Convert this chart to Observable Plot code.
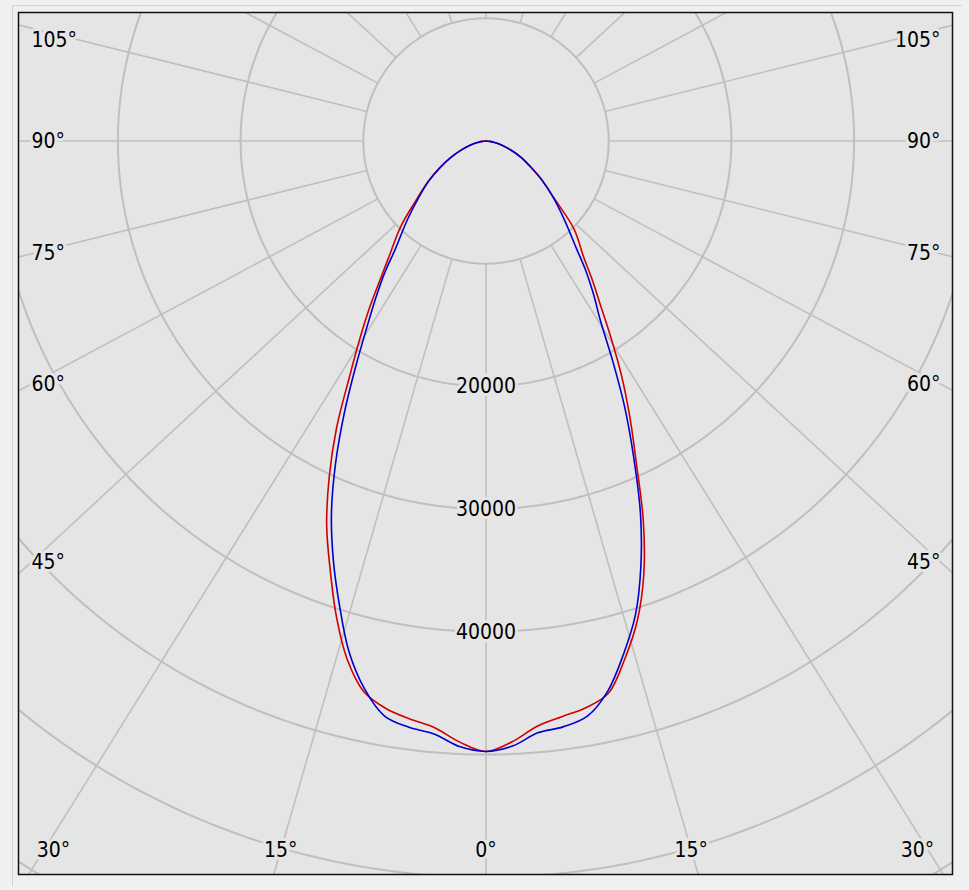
<!DOCTYPE html>
<html><head><meta charset="utf-8">
<script src="https://cdn.jsdelivr.net/npm/d3@7"></script>
<script src="https://cdn.jsdelivr.net/npm/@observablehq/plot@0.6"></script>
<style>html,body{margin:0;padding:0;background:#f0f0f0;}</style>
</head><body><div id="chart"></div>
<script>
// ---- data (luminous intensity, cd) ----
const angles = [0, 2.5, 5, 7.5, 10, 12.5, 15, 17.5, 20, 22.5, 25, 27.5, 30, 32.5, 35, 37.5, 40, 45, 50, 55, 60, 65, 70, 75, 80, 85, 90];
const c0   = [49750, 49000, 47880, 47320, 46900, 46100, 43700, 41000, 37600, 33500, 29000, 25400, 22100, 18900, 16200, 14200, 12400, 10150, 7230, 5560, 4130, 3150, 2150, 1350, 720, 320, 0];
const c180 = [49750, 49040, 48000, 47510, 46960, 45970, 43720, 40580, 37140, 33930, 30240, 26390, 22300, 19160, 16500, 14100, 12300, 9800, 7350, 5760, 4360, 3190, 2160, 1340, 700, 330, 0];
const c90  = [49750, 49360, 48420, 48160, 47600, 45900, 43300, 40500, 36900, 32900, 28500, 24500, 20600, 17350, 15300, 13400, 11500, 9000, 7150, 5600, 4200, 3150, 2150, 1350, 720, 320, 0];
const c270 = [49750, 49400, 48510, 48190, 47590, 45730, 43110, 39700, 36370, 32920, 29020, 25020, 21250, 18120, 15700, 13600, 11500, 9050, 7150, 5700, 4300, 3150, 2160, 1340, 700, 330, 0];
const rings = [10000, 20000, 30000, 40000, 50000, 60000, 70000];
const ringLabels = [20000, 30000, 40000];
const gridAngles = d3.range(0, 360, 15);
const angleLabels = [0, 15, 30, 45, 60, 75, 90, 105];

// ---- layout ----
const W = 969, H = 890;
const mL = 18, mR = 17, mT = 12, mB = 16;
const cx = 485.5, cy = 140.5;          // pixel position of the pole
const pxPerCd = 12.27 / 1000;
const xDomain = [(mL - cx) / pxPerCd, (W - mR - cx) / pxPerCd];
const yDomain = [-(H - mB - cy) / pxPerCd, (cy - mT) / pxPerCd];
const toX = px => (px - cx) / pxPerCd, toY = py => (cy - py) / pxPerCd;
const rad = d => d * Math.PI / 180;
const skew = 1.08; // the reference draws its spokes slightly flattened
const spokeDir = t => Math.atan2(skew * Math.sin(rad(t)), Math.cos(rad(t)));

const bg = "#e5e5e5", grid = "#bfbfbf";
const font = "'DejaVu Sans Condensed', 'DejaVu Sans', sans-serif";

// curves: left half (C180 / C270) from 90° down to 0°, then right half (C0 / C90) up to 90°
function curve(left, right, name) {
  const pts = [];
  for (let i = angles.length - 1; i >= 0; i--) pts.push({s: name, x: -left[i] * Math.sin(rad(angles[i])), y: -left[i] * Math.cos(rad(angles[i]))});
  for (let i = 1; i < angles.length; i++) pts.push({s: name, x: right[i] * Math.sin(rad(angles[i])), y: -right[i] * Math.cos(rad(angles[i]))});
  return pts;
}
const red = curve(c180, c0, "C0-C180");
const blue = curve(c270, c90, "C90-C270");

const ringPts = rings.flatMap(R => d3.range(0, 361, 1).map(a => ({R, x: R * Math.sin(rad(a)), y: -R * Math.cos(rad(a))})));
const spokes = gridAngles.map(t => {
  const p = spokeDir(t);
  return {x1: 10000 * Math.sin(p), y1: -10000 * Math.cos(p), x2: 120000 * Math.sin(p), y2: -120000 * Math.cos(p)};
});

// angle labels: where each spoke meets an inset box
const inL = 31, inR = 940, inT = 40, inB = 850;
const labels = [];
for (const t of angleLabels) {
  for (const side of (t === 0 ? [1] : [-1, 1])) {
    const p = spokeDir(t);
    const ux = side * Math.sin(p), uy = Math.cos(p);
    const tx = Math.abs(ux) > 1e-9 ? (side < 0 ? (cx - inL) : (inR - cx)) / Math.abs(ux) : Infinity;
    const ty = uy > 1e-9 ? (inB - cy) / uy : Infinity;
    if (tx <= ty) {
      const py = Math.max(inT, Math.min(inB, cy + uy * tx));
      labels.push({x: toX(side < 0 ? inL : inR), y: toY(py), text: t + "°", anchor: side < 0 ? "start" : "end"});
    } else {
      const px = Math.max(53, Math.min(917, cx + ux * ty));
      labels.push({x: toX(px), y: toY(inB), text: t + "°", anchor: "middle"});
    }
  }
}
const labelMark = anchor => Plot.text(labels.filter(d => d.anchor === anchor), {
  x: "x", y: "y", text: "text", textAnchor: anchor, fontSize: 21, fontFamily: font,
  fill: "black", stroke: bg, strokeWidth: 6
});

const chart = Plot.plot({
  width: W, height: H,
  marginLeft: mL, marginRight: mR, marginTop: mT, marginBottom: mB,
  x: {domain: xDomain, axis: null},
  y: {domain: yDomain, axis: null},
  style: {background: "#f0f0f0", fontStretch: "condensed", overflow: "visible"},
  marks: [
    Plot.frame({fill: bg}),
    Plot.line(ringPts, {x: "x", y: "y", z: "R", stroke: grid, strokeWidth: 2, clip: true}),
    Plot.link(spokes, {x1: "x1", y1: "y1", x2: "x2", y2: "y2", stroke: grid, strokeWidth: 1.6, clip: true}),
    Plot.line(red, {x: "x", y: "y", stroke: "#d00000", strokeWidth: 1.6, curve: "catmull-rom", clip: true}),
    Plot.line(blue, {x: "x", y: "y", stroke: "#0000d0", strokeWidth: 1.6, curve: "catmull-rom", clip: true}),
    Plot.text(ringLabels, {x: 0, y: d => -d, text: d => String(d), fontSize: 21, fontFamily: font, fill: "black", stroke: bg, strokeWidth: 6}),
    labelMark("start"),
    labelMark("end"),
    labelMark("middle"),
    Plot.frame({stroke: "#111", strokeWidth: 1.5})
  ]
});
// thin outer border of the window
const svg = d3.select(chart);
svg.append("line").attr("x1", 12.5).attr("x2", 962).attr("y1", 5.5).attr("y2", 5.5).attr("stroke", "#d2d2d2");
svg.append("line").attr("x1", 12.5).attr("x2", 12.5).attr("y1", 5.5).attr("y2", 886).attr("stroke", "#d2d2d2");
document.getElementById("chart").appendChild(chart);
</script>
</body></html>
